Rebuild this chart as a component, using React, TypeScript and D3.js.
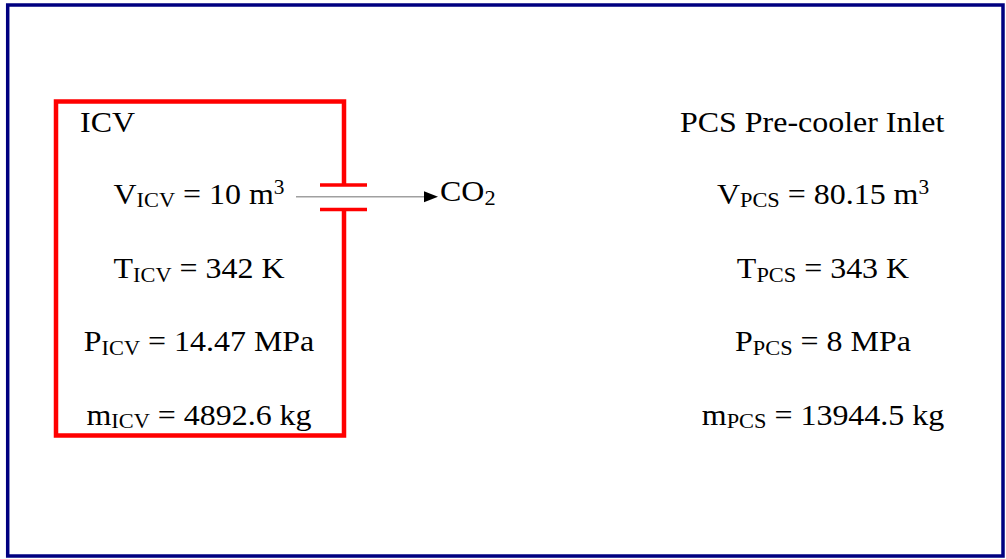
import React from "react";
import * as d3 from "d3";

const quantitySymbols = ["V", "T", "P", "m"];
const quantityUnits = ["m", "K", "MPa", "kg"];
const unitSuperscripts = ["3", "", "", ""];
const icvValues = ["10", "342", "14.47", "4892.6"];
const pcsValues = ["80.15", "343", "8", "13944.5"];
const icvTitle = "ICV";
const pcsTitle = "PCS Pre-cooler Inlet";
const icvSub = "ICV";
const pcsSub = "PCS";
const flowLabel = "CO";
const flowSub = "2";

const W = 1006;
const H = 559;
const FONT = "'Liberation Serif', 'Times New Roman', serif";
const SX = 1.065;
const rowBaselines = [203.5, 278, 351, 424.5];

function Row({ x, y, sym, sub, val, unit, sup }: any) {
  return (
    <g transform={`translate(${x},${y}) scale(${SX},1)`}>
      <text x={0} y={0} textAnchor="middle" fontFamily={FONT} fontSize={30} fill="#000">
        <tspan>{sym}</tspan>
        <tspan fontSize={21} dy={3.5}>{sub}</tspan>
        <tspan dy={-3.5}>{` = ${val} ${unit}`}</tspan>
        {sup ? (
          <tspan fontSize={20} dy={-10}>{sup}</tspan>
        ) : null}
      </text>
    </g>
  );
}

export default function App() {
  const line = d3.line();
  const boxL = 56, boxR = 344, boxT = 101.5, boxB = 435.5;
  const valveTop = 185, valveBot = 209.5;
  const topPath = line([[boxR, valveTop], [boxR, boxT], [boxL, boxT], [boxL, boxB], [boxR, boxB], [boxR, valveBot]]) as string;
  const arrowY = 196.7;
  const arrowHead = line([[424, arrowY - 5.5], [438, arrowY], [424, arrowY + 5.5]]) + "Z";
  return (
    <svg width={W} height={H} style={{ position: "absolute", left: 0, top: 0, background: "#fff" }}>
      <rect x={0} y={0} width={W} height={H} fill="#fff" />
      <rect x={7.7} y={5} width={995.3} height={551} fill="none" stroke="#000080" strokeWidth={3.5} />
      <path d={topPath} fill="none" stroke="#ff0000" strokeWidth={4.5} />
      <line x1={320} x2={367} y1={valveTop} y2={valveTop} stroke="#ff0000" strokeWidth={3.5} />
      <line x1={320} x2={367} y1={valveBot} y2={valveBot} stroke="#ff0000" strokeWidth={3.5} />
      <line x1={296} x2={426} y1={arrowY} y2={arrowY} stroke="#a0a0a0" strokeWidth={1.5} />
      <path d={arrowHead} fill="#000" />
      <g transform={`translate(440,201) scale(${SX},1)`}>
        <text x={0} y={0} fontFamily={FONT} fontSize={30} fill="#000">
          <tspan>{flowLabel}</tspan>
          <tspan fontSize={21} dy={3.5}>{flowSub}</tspan>
        </text>
      </g>
      <g transform={`translate(80,131.5) scale(${SX},1)`}>
        <text x={0} y={0} fontFamily={FONT} fontSize={30} fill="#000">{icvTitle}</text>
      </g>
      <g transform={`translate(680,131.5) scale(${SX},1)`}>
        <text x={0} y={0} fontFamily={FONT} fontSize={30} fill="#000">{pcsTitle}</text>
      </g>
      {quantitySymbols.map((s, i) => (
        <Row key={"icv" + i} x={199} y={rowBaselines[i]} sym={s} sub={icvSub} val={icvValues[i]} unit={quantityUnits[i]} sup={unitSuperscripts[i]} />
      ))}
      {quantitySymbols.map((s, i) => (
        <Row key={"pcs" + i} x={823} y={rowBaselines[i]} sym={s} sub={pcsSub} val={pcsValues[i]} unit={quantityUnits[i]} sup={unitSuperscripts[i]} />
      ))}
    </svg>
  );
}
